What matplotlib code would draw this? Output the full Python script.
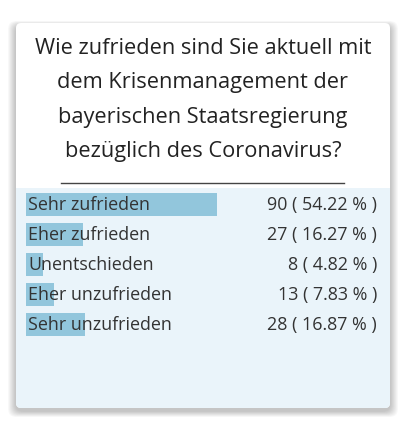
import matplotlib
matplotlib.use("Agg")
import matplotlib.pyplot as plt
from matplotlib.patches import FancyBboxPatch, Rectangle

TITLE = "Wie zufrieden sind Sie aktuell mit\ndem Krisenmanagement der\nbayerischen Staatsregierung\nbezüglich des Coronavirus?"
answers = ["Sehr zufrieden", "Eher zufrieden", "Unentschieden", "Eher unzufrieden", "Sehr unzufrieden"]
counts = [90, 27, 8, 13, 28]
percents = [54.22, 16.27, 4.82, 7.83, 16.87]

BAR_COLOR = "#92c6dc"
PANEL_BG = "#eaf4fa"
TEXT = "#333333"

plt.rcParams["font.family"] = ["Open Sans", "DejaVu Sans"]

fig = plt.figure(figsize=(4.1, 4.3), dpi=100)
fig.patch.set_facecolor("white")

# page in pixel coords (y downward)
page = fig.add_axes([0, 0, 1, 1])
page.set_xlim(0, 410)
page.set_ylim(430, 0)
page.axis("off")

# soft shadow, a bit lower than the card
for g in range(10, 0, -1):
    page.add_patch(FancyBboxPatch((16 - g * 0.8, 23 - g * 0.5 + 3), 374 + 1.6 * g, 385 + 1.1 * g,
                                  boxstyle="round,pad=0,rounding_size=8",
                                  fc="#000000", ec="none", alpha=0.022, zorder=1))

page.add_patch(FancyBboxPatch((16, 23), 374, 385, boxstyle="round,pad=0,rounding_size=5",
                              fc="white", ec="none", zorder=2))
page.add_patch(Rectangle((16, 188), 374, 216, fc=PANEL_BG, ec="none", zorder=3))
page.add_patch(FancyBboxPatch((16, 395), 374, 13, boxstyle="round,pad=0,rounding_size=5",
                              fc=PANEL_BG, ec="none", zorder=3))

page.text(203, 100, TITLE, ha="center", va="center", fontsize=15.7, color="#222222",
          linespacing=1.83, zorder=5)
page.plot([61, 344], [183, 183], color="#444444", lw=1, zorder=5)

# bars
ax = fig.add_axes([26 / 410, 1 - 339 / 430, 352 / 410, 150 / 430])
ax.set_xlim(0, 100)
ax.set_ylim(len(answers) - 0.5, -0.5)
ax.axis("off")
ax.patch.set_alpha(0)
ypos = list(range(len(answers)))
ax.barh(ypos, percents, height=23 / 30, color=BAR_COLOR, zorder=1)
for y, name, c, p in zip(ypos, answers, counts, percents):
    ax.text(0.6, y + 0.02, name, ha="left", va="center", fontsize=12.9, color=TEXT, zorder=2)
    ax.text(99.7, y + 0.02, f"{c} ( {p:.2f} % )", ha="right", va="center", fontsize=12.9,
            color=TEXT, zorder=2)

fig.savefig("out.png", dpi=100)
